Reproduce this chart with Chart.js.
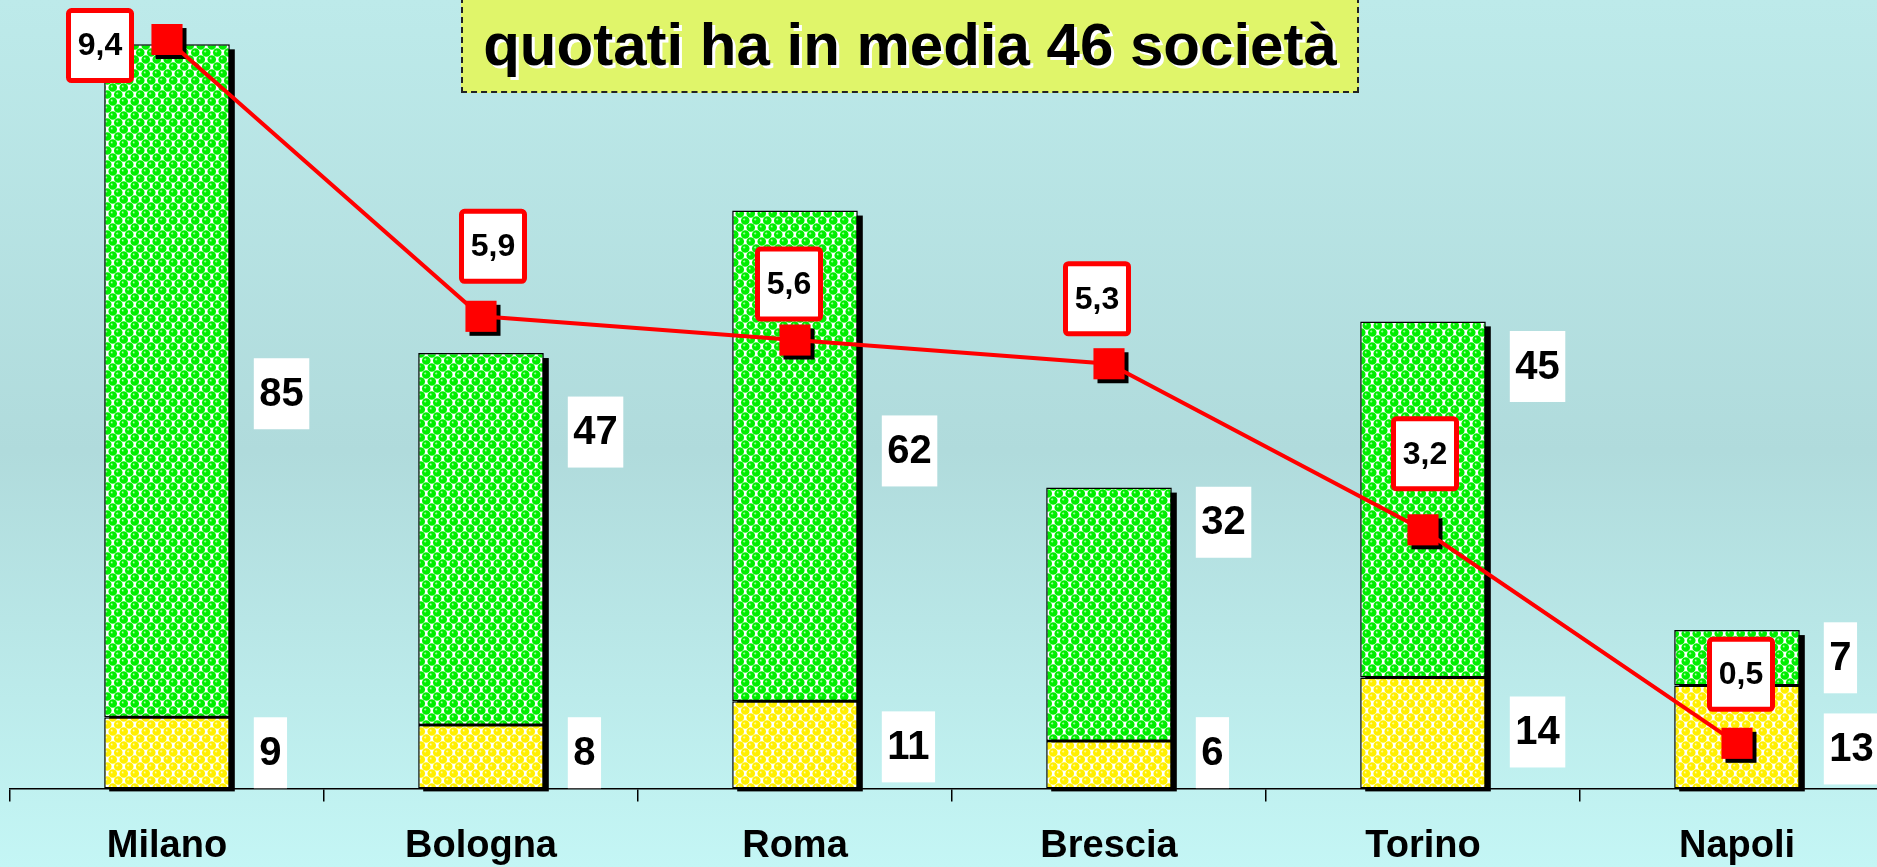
<!DOCTYPE html>
<html>
<head>
<meta charset="utf-8">
<script src="https://cdn.jsdelivr.net/npm/chart.js@4"></script>
<style>
  html, body { margin: 0; padding: 0; }
  body {
    width: 1877px; height: 867px; overflow: hidden; position: relative;
    background: linear-gradient(to bottom, #bdeaea 0%, #b0dbdc 52%, #c4f6f5 100%);
    font-family: 'Liberation Sans', Arial, sans-serif;
  }
  #wrap { position: absolute; left: 0; top: 0; width: 1905px; height: 867px; }
  #title {
    position: absolute; left: 461px; top: -3px; width: 894px; height: 92px;
    background: #e0f56a; border: 2px dashed #222;
    font-weight: bold; font-size: 60px; line-height: 92px; text-align: center;
    text-shadow: 3px 3px 0 #fff; color: #000;
  }
</style>
</head>
<body>
<div id="wrap"><canvas id="chart" width="1905" height="867"></canvas></div>
<div id="title">quotati ha in media 46 società</div>
<script>
const cities = ['Milano', 'Bologna', 'Roma', 'Brescia', 'Torino', 'Napoli'];
const lowerPart = [9, 8, 11, 6, 14, 13];
const upperPart = [85, 47, 62, 32, 45, 7];
const average = [9.4, 5.9, 5.6, 5.3, 3.2, 0.5];

// hand placed label boxes, pixel shifts
const upperShift = [13, -107, -5, -92, -133, 0];
const lowerShift = [0, -4, 2, -12, -1, 12];
const avgShift = [[-67, 6], [12, -70], [-6, -56], [-12, -65], [2, -76], [4, -69]];

function makePattern(color, light) {
    const c = document.createElement('canvas');
    c.width = 11; c.height = 14;
    const g = c.getContext('2d');
    g.fillStyle = '#fff';
    g.fillRect(0, 0, 11, 14);
    const spots = [[2.75, 3.5], [8.25, 10.5], [13.75, 3.5], [-2.75, 10.5], [8.25, -3.5], [2.75, 17.5]];
    spots.forEach(([x, y]) => {
        const rg = g.createRadialGradient(x - 1.3, y - 1.3, 0.2, x, y, 4.4);
        rg.addColorStop(0, light);
        rg.addColorStop(0.3, color);
        rg.addColorStop(1, color);
        g.fillStyle = rg;
        g.beginPath();
        g.arc(x, y, 4.3, 0, Math.PI * 2);
        g.fill();
    });
    return g.createPattern(c, 'repeat');
}

const ctx = document.getElementById('chart').getContext('2d');

const greenFill = makePattern('#00ee00', '#c0ffc0');
const yellowFill = makePattern('#ffef00', '#fffbc0');

const boxPlugin = {
    id: 'boxes',
    beforeDatasetsDraw(chart) {
        const c = chart.ctx;
        const low = chart.getDatasetMeta(0).data;
        const up = chart.getDatasetMeta(1).data;
        c.save();
        c.fillStyle = '#000';
        up.forEach((bar, i) => {
            const base = low[i].base;
            c.fillRect(bar.x - bar.width / 2 + 5, bar.y + 5, bar.width, base - bar.y - 2);
        });
        c.restore();
    },
    beforeDatasetDraw(chart, args) {
        if (args.index !== 2) return;
        const c = chart.ctx;
        c.save();
        c.fillStyle = '#000';
        args.meta.data.forEach(p => {
            c.fillRect(p.x - 15.5 + 4, p.y - 15.5 + 4, 31, 31);
        });
        c.restore();
    },
    afterDatasetsDraw(chart) {
        const c = chart.ctx;
        const low = chart.getDatasetMeta(0).data;
        const up = chart.getDatasetMeta(1).data;
        const pts = chart.getDatasetMeta(2).data;
        c.save();
        c.textAlign = 'center';
        c.textBaseline = 'middle';
        c.font = 'bold 40px "Liberation Sans", Arial, sans-serif';
        const whiteBox = (txt, left, cy) => {
            const w = c.measureText(txt).width + 11;
            c.fillStyle = '#fff';
            c.fillRect(left, cy - 35.5, w, 71);
            c.fillStyle = '#000';
            c.fillText(txt, left + w / 2, cy + 1);
        };
        cities.forEach((name, i) => {
            const left = up[i].x + up[i].width / 2 + 24;
            const lowMid = (low[i].y + low[i].base) / 2 + lowerShift[i];
            const upMid = (up[i].y + up[i].base) / 2 + upperShift[i];
            whiteBox(String(lowerPart[i]), left, lowMid);
            whiteBox(String(upperPart[i]), left, upMid);
        });
        c.font = 'bold 32px "Liberation Sans", Arial, sans-serif';
        pts.forEach((p, i) => {
            const cx = p.x + avgShift[i][0];
            const cy = p.y + avgShift[i][1];
            c.fillStyle = '#fff';
            c.strokeStyle = '#ff0000';
            c.lineWidth = 5;
            c.beginPath();
            c.roundRect(cx - 31.5, cy - 35, 63, 70, 3);
            c.fill();
            c.stroke();
            c.fillStyle = '#000';
            c.fillText(average[i].toFixed(1).replace('.', ','), cx, cy + 1);
        });
        c.restore();
    }
};

new Chart(ctx, {
    type: 'bar',
    data: {
        labels: cities,
        datasets: [{
            label: 'lower',
            data: lowerPart,
            backgroundColor: yellowFill,
            borderColor: '#000',
            borderWidth: 1.5,
            borderSkipped: false,
            order: 2
        }, {
            label: 'upper',
            data: upperPart,
            backgroundColor: greenFill,
            borderColor: '#000',
            borderWidth: 1.5,
            borderSkipped: false,
            order: 2
        }, {
            type: 'line',
            label: 'media',
            data: average,
            yAxisID: 'y2',
            borderColor: '#ff0000',
            borderWidth: 4,
            pointStyle: 'rect',
            pointRadius: 22,
            pointBackgroundColor: '#ff0000',
            pointBorderWidth: 0,
            tension: 0,
            clip: false,
            order: 1
        }]
    },
    options: {
        responsive: false,
        animation: false,
        layout: { autoPadding: false, padding: { left: 10, right: 11, top: 0, bottom: -24 } },
        plugins: {
            legend: { display: false },
            tooltip: { enabled: false }
        },
        datasets: {
            bar: { barPercentage: 0.4, categoryPercentage: 1.0 }
        },
        scales: {
            x: {
                stacked: true,
                border: { color: '#000', width: 1.5 },
                grid: { drawOnChartArea: false, color: '#000', lineWidth: 1.5, tickLength: 13 },
                ticks: {
                    color: '#000',
                    padding: 22,
                    font: { family: '"Liberation Sans", Arial, sans-serif', size: 38, weight: 'bold' }
                }
            },
            y: {
                stacked: true,
                display: false,
                min: 0,
                max: 99.6
            },
            y2: {
                display: false,
                min: -0.07,
                max: 9.9
            }
        }
    },
    plugins: [boxPlugin]
});
</script>
</body>
</html>
